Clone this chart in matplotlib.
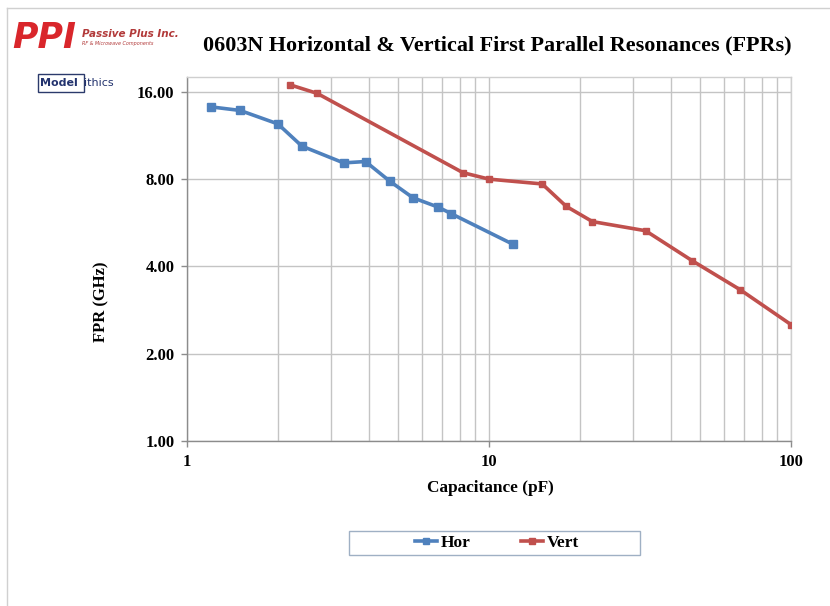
import matplotlib
matplotlib.use("Agg")
import matplotlib.pyplot as plt
from matplotlib.ticker import FixedLocator, FixedFormatter, LogLocator, NullFormatter
from matplotlib.patches import Rectangle
from matplotlib.lines import Line2D

# ---- data ----
hor_cap = [1.2, 1.5, 2.0, 2.4, 3.3, 3.9, 4.7, 5.6, 6.8, 7.5, 12]
hor_fpr = [14.2, 13.8, 12.4, 10.4, 9.1, 9.2, 7.86, 6.9, 6.4, 6.08, 4.77]
vert_cap = [2.2, 2.7, 8.2, 10, 15, 18, 22, 33, 47, 68, 100]
vert_fpr = [16.9, 15.8, 8.42, 8.0, 7.7, 6.45, 5.71, 5.31, 4.19, 3.32, 2.52]
series_names = ["Hor", "Vert"]
y_ticks = [1, 2, 4, 8, 16]
y_tick_labels = ["1.00", "2.00", "4.00", "8.00", "16.00"]
x_ticks = [1, 10, 100]
x_tick_labels = ["1", "10", "100"]

title = "0603N Horizontal & Vertical First Parallel Resonances (FPRs)"
xlabel = "Capacitance (pF)"
ylabel = "FPR (GHz)"

BLUE = "#4F81BD"
RED = "#C0504D"
SERIF = ["Liberation Serif", "DejaVu Serif"]

W, H = 830, 606
fig = plt.figure(figsize=(W / 100, H / 100), dpi=100)
fig.patch.set_facecolor("white")

def fx(px):
    return px / W

def fy(py):
    return 1 - py / H

ax = fig.add_axes([fx(187), fy(441), fx(791) - fx(187), fy(77) - fy(441)])
ax.set_xscale("log")
ax.set_yscale("log")
ax.set_xlim(1, 100)
ax.set_ylim(1, 18)

ax.plot(hor_cap, hor_fpr, color=BLUE, lw=2.6, marker="s", ms=5.5,
        mfc=BLUE, mec=BLUE, label=series_names[0], zorder=3)
ax.plot(vert_cap, vert_fpr, color=RED, lw=2.6, marker="s", ms=4.5,
        mfc=RED, mec=RED, label=series_names[1], zorder=3)

ax.yaxis.set_major_locator(FixedLocator(y_ticks))
ax.yaxis.set_major_formatter(FixedFormatter(y_tick_labels))
ax.yaxis.set_minor_locator(FixedLocator([]))
ax.xaxis.set_major_locator(FixedLocator(x_ticks))
ax.xaxis.set_major_formatter(FixedFormatter(x_tick_labels))
ax.xaxis.set_minor_locator(LogLocator(base=10, subs=range(2, 10)))
ax.xaxis.set_minor_formatter(NullFormatter())

ax.grid(True, which="major", color="#c4c4c4", lw=1.0, zorder=0)
ax.grid(True, which="minor", axis="x", color="#c4c4c4", lw=1.0, zorder=0)
ax.set_axisbelow(True)

for s in ["top", "right"]:
    ax.spines[s].set_color("#cfcfcf")
    ax.spines[s].set_linewidth(1.0)
for s in ["left", "bottom"]:
    ax.spines[s].set_color("#8c8c8c")
    ax.spines[s].set_linewidth(1.0)

ax.tick_params(axis="both", which="major", direction="out", length=4,
               color="#8c8c8c", width=1.0)
ax.tick_params(axis="x", which="minor", length=0)
ax.tick_params(axis="y", which="major", pad=5)
ax.tick_params(axis="x", which="major", pad=5)
for lab in ax.get_xticklabels() + ax.get_yticklabels():
    lab.set_fontfamily(SERIF)
    lab.set_fontweight("bold")
    lab.set_fontsize(12)

# axis labels
fig.text(fx(490), fy(488), xlabel, ha="center", va="center",
         fontfamily=SERIF, fontweight="bold", fontsize=12.4)
fig.text(fx(101), fy(302), ylabel, ha="center", va="center", rotation=90,
         fontfamily=SERIF, fontweight="bold", fontsize=12)

# title
fig.text(fx(497), fy(45), title, ha="center", va="center",
         fontfamily=SERIF, fontweight="bold", fontsize=15.9)

# legend frame and entries
fig.patches.append(Rectangle((fx(349), fy(555)), fx(640) - fx(349), fy(531) - fy(555),
                             transform=fig.transFigure, fill=False,
                             edgecolor="#9fb0c4", lw=1.0))
handles = [Line2D([], [], color=BLUE, lw=2.6, marker="s", ms=5),
           Line2D([], [], color=RED, lw=2.6, marker="s", ms=4.5)]
leg = fig.legend(handles, series_names, loc="center",
                 bbox_to_anchor=(fx(497), fy(543)), ncol=2, frameon=False,
                 handlelength=1.3, handletextpad=0.2, columnspacing=2.9,
                 prop={"family": SERIF, "weight": "bold", "size": 12.5})

# outer frame (left and top edges)
fig.add_artist(Line2D([fx(7), fx(7)], [fy(8), fy(606)], transform=fig.transFigure,
                      color="#d0d0d0", lw=1.0))
fig.add_artist(Line2D([fx(7), fx(830)], [fy(8), fy(8)], transform=fig.transFigure,
                      color="#d0d0d0", lw=1.0))

# logos (approximated as text)
fig.text(fx(12), fy(38), "PPI", ha="left", va="center", color="#d9262b",
         fontsize=25, fontweight="bold", fontstyle="italic",
         fontfamily=["DejaVu Sans"])
fig.text(fx(82), fy(34), "Passive Plus Inc.", ha="left", va="center",
         color="#b23a3a", fontsize=7.5, fontstyle="italic", fontweight="bold",
         fontfamily=["DejaVu Sans"])
fig.text(fx(82), fy(43), "RF & Microwave Components", ha="left", va="center",
         color="#b23a3a", fontsize=3.5, fontstyle="italic",
         fontfamily=["DejaVu Sans"])
fig.patches.append(Rectangle((fx(38), fy(92)), fx(84) - fx(38), fy(74) - fy(92),
                             transform=fig.transFigure, fill=False,
                             edgecolor="#2b3a6b", lw=1.0))
fig.text(fx(40), fy(83), "Model", ha="left", va="center", color="#23336e",
         fontsize=8, fontweight="bold", fontfamily=["DejaVu Sans"])
fig.text(fx(84), fy(83), "ithics", ha="left", va="center", color="#23336e",
         fontsize=8, fontfamily=["DejaVu Sans"])

fig.savefig("out.png", dpi=100, facecolor="white")
